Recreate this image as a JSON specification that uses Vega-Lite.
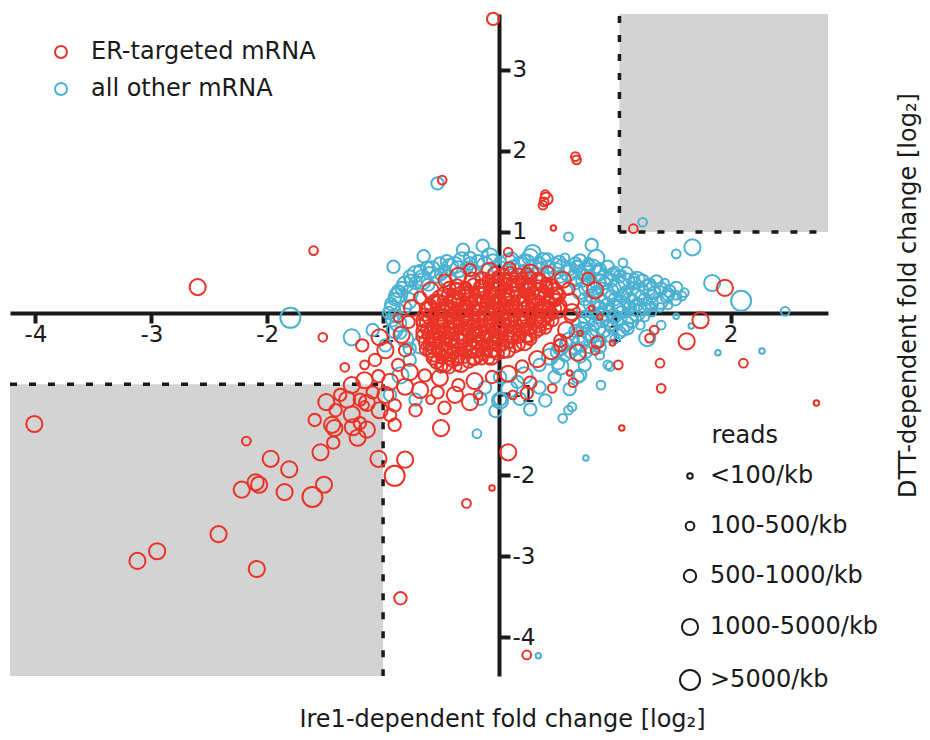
{
"$schema": "https://vega.github.io/schema/vega-lite/v6.json",
"width": 818, "height": 662,
"autosize": {"type": "none"},
"padding": {"left": 10, "top": 14, "right": 102, "bottom": 64},
"background": "white",
"config": {
 "view": {"stroke": null},
 "font": "DejaVu Sans",
 "axis": {"grid": false, "domainColor": "#1a1a1a", "domainWidth": 4, "tickColor": "#1a1a1a", "tickWidth": 4, "labelFont": "DejaVu Sans", "labelFontSize": 23, "labelColor": "#1a1a1a", "titleFont": "DejaVu Sans", "titleFontSize": 24, "titleFontWeight": "normal", "titleColor": "#1a1a1a", "labelFlush": false},
 "legend": {"labelFont": "DejaVu Sans", "labelFontSize": 24, "labelColor": "#1a1a1a", "titleFont": "DejaVu Sans", "titleFontSize": 24, "titleFontWeight": "normal", "titleColor": "#1a1a1a", "symbolStrokeWidth": 2, "padding": 0, "labelLimit": 400}
},
"layer": [
{
 "data": {"values": [{"x1": -4.22, "x2": -1, "y1": -4.48, "y2": -0.88}, {"x1": 1.04, "x2": 2.84, "y1": 1.0, "y2": 3.69}]},
 "mark": {"type": "rect", "color": "#d3d3d3"},
 "encoding": {
  "x": {"field": "x1", "type": "quantitative", "scale": {"domain": [-4.22, 2.84], "nice": false, "zero": false},
   "axis": {"orient": "bottom", "offset": -363, "values": [-4, -3, -2, -1, 1, 2], "tickSize": 10, "labelPadding": 0, "labelExpr": "'' + datum.value", "title": "Ire1-dependent fold change [log₂]", "titleX": 492, "titleY": 413, "titleBaseline": "alphabetic"}},
  "x2": {"field": "x2"},
  "y": {"field": "y1", "type": "quantitative", "scale": {"domain": [-4.48, 3.69], "nice": false, "zero": false},
   "axis": {"orient": "right", "offset": -329, "values": [-4, -3, -2, -1, 1, 2, 3], "tickSize": 11, "labelPadding": 2, "labelExpr": "'' + datum.value", "title": "DTT-dependent fold change [log₂]", "titleX": 416, "titleY": 281, "titleAngle": 270, "titleBaseline": "alphabetic"}},
  "y2": {"field": "y2"}
 }
},
{
 "data": {"values": [{"x1": -4.22, "x2": -1, "y1": -0.88, "y2": -0.88}, {"x1": -1, "x2": -1, "y1": -0.88, "y2": -4.48}, {"x1": 1.04, "x2": 1.04, "y1": 1.0, "y2": 3.69}, {"x1": 1.04, "x2": 2.84, "y1": 1.0, "y2": 1.0}]},
 "mark": {"type": "rule", "color": "#1a1a1a", "strokeWidth": 3.5, "strokeDash": [7, 12]},
 "encoding": {
  "x": {"field": "x1", "type": "quantitative", "scale": {"domain": [-4.22, 2.84], "nice": false, "zero": false}},
  "x2": {"field": "x2"},
  "y": {"field": "y1", "type": "quantitative", "scale": {"domain": [-4.48, 3.69], "nice": false, "zero": false}},
  "y2": {"field": "y2"}
 }
},
{
 "data": {"values": [
{"x":-0.25,"y":0.68,"reads":3,"set":"other"},{"x":-0.08,"y":0.70,"reads":4,"set":"other"},{"x":0.11,"y":0.67,"reads":3,"set":"other"},{"x":0.27,"y":0.69,"reads":4,"set":"other"},{"x":0.42,"y":0.66,"reads":3,"set":"other"},{"x":0.57,"y":0.68,"reads":2,"set":"other"},
{"x":-0.51,"y":0.61,"reads":3,"set":"other"},{"x":-0.38,"y":0.59,"reads":4,"set":"other"},{"x":-0.25,"y":0.61,"reads":3,"set":"other"},{"x":-0.12,"y":0.59,"reads":4,"set":"other"},{"x":0.01,"y":0.62,"reads":3,"set":"other"},{"x":0.18,"y":0.59,"reads":4,"set":"other"},{"x":0.35,"y":0.61,"reads":3,"set":"other"},{"x":0.48,"y":0.58,"reads":4,"set":"other"},{"x":0.66,"y":0.61,"reads":3,"set":"other"},{"x":0.78,"y":0.58,"reads":3,"set":"other"},
{"x":-0.68,"y":0.52,"reads":3,"set":"other"},{"x":-0.58,"y":0.54,"reads":4,"set":"other"},{"x":-0.47,"y":0.52,"reads":3,"set":"other"},{"x":-0.35,"y":0.54,"reads":4,"set":"other"},{"x":-0.21,"y":0.52,"reads":3,"set":"other"},{"x":0.01,"y":0.54,"reads":4,"set":"other"},{"x":0.22,"y":0.52,"reads":3,"set":"other"},{"x":0.35,"y":0.54,"reads":3,"set":"other"},{"x":0.49,"y":0.52,"reads":4,"set":"other"},{"x":0.61,"y":0.54,"reads":3,"set":"other"},{"x":0.74,"y":0.52,"reads":4,"set":"other"},{"x":0.87,"y":0.54,"reads":3,"set":"other"},{"x":1.00,"y":0.52,"reads":2,"set":"other"},
{"x":-0.77,"y":0.45,"reads":3,"set":"other"},{"x":-0.66,"y":0.43,"reads":4,"set":"other"},{"x":-0.54,"y":0.45,"reads":3,"set":"other"},{"x":-0.44,"y":0.43,"reads":4,"set":"other"},{"x":0.53,"y":0.45,"reads":3,"set":"other"},{"x":0.66,"y":0.43,"reads":4,"set":"other"},{"x":0.78,"y":0.45,"reads":3,"set":"other"},{"x":0.91,"y":0.43,"reads":4,"set":"other"},{"x":1.04,"y":0.45,"reads":3,"set":"other"},{"x":1.17,"y":0.43,"reads":2,"set":"other"},
{"x":-0.81,"y":0.35,"reads":4,"set":"other"},{"x":-0.72,"y":0.37,"reads":3,"set":"other"},{"x":-0.61,"y":0.35,"reads":3,"set":"other"},{"x":0.66,"y":0.37,"reads":3,"set":"other"},{"x":0.78,"y":0.35,"reads":4,"set":"other"},{"x":0.91,"y":0.37,"reads":3,"set":"other"},{"x":1.04,"y":0.35,"reads":4,"set":"other"},{"x":1.17,"y":0.37,"reads":3,"set":"other"},{"x":1.30,"y":0.35,"reads":3,"set":"other"},{"x":1.43,"y":0.37,"reads":2,"set":"other"},
{"x":-0.87,"y":0.27,"reads":3,"set":"other"},{"x":-0.77,"y":0.25,"reads":4,"set":"other"},{"x":0.70,"y":0.27,"reads":4,"set":"other"},{"x":0.83,"y":0.25,"reads":3,"set":"other"},{"x":0.96,"y":0.27,"reads":4,"set":"other"},{"x":1.09,"y":0.25,"reads":3,"set":"other"},{"x":1.22,"y":0.27,"reads":4,"set":"other"},{"x":1.34,"y":0.25,"reads":3,"set":"other"},{"x":1.47,"y":0.27,"reads":3,"set":"other"},{"x":1.60,"y":0.25,"reads":2,"set":"other"},
{"x":-0.90,"y":0.17,"reads":3,"set":"other"},{"x":-0.78,"y":0.15,"reads":4,"set":"other"},{"x":0.74,"y":0.17,"reads":3,"set":"other"},{"x":0.87,"y":0.15,"reads":4,"set":"other"},{"x":1.00,"y":0.17,"reads":3,"set":"other"},{"x":1.13,"y":0.15,"reads":4,"set":"other"},{"x":1.26,"y":0.17,"reads":3,"set":"other"},{"x":1.39,"y":0.15,"reads":4,"set":"other"},{"x":1.52,"y":0.17,"reads":3,"set":"other"},
{"x":-0.92,"y":0.05,"reads":4,"set":"other"},{"x":-0.81,"y":0.07,"reads":3,"set":"other"},{"x":0.74,"y":0.05,"reads":4,"set":"other"},{"x":0.87,"y":0.07,"reads":3,"set":"other"},{"x":1.00,"y":0.05,"reads":4,"set":"other"},{"x":1.13,"y":0.07,"reads":3,"set":"other"},{"x":1.26,"y":0.05,"reads":3,"set":"other"},{"x":1.39,"y":0.07,"reads":2,"set":"other"},
{"x":-0.90,"y":-0.03,"reads":3,"set":"other"},{"x":0.74,"y":-0.05,"reads":3,"set":"other"},{"x":0.87,"y":-0.03,"reads":4,"set":"other"},{"x":1.00,"y":-0.05,"reads":3,"set":"other"},{"x":1.13,"y":-0.03,"reads":4,"set":"other"},{"x":1.26,"y":-0.05,"reads":2,"set":"other"},
{"x":-0.87,"y":-0.13,"reads":4,"set":"other"},{"x":0.70,"y":-0.15,"reads":4,"set":"other"},{"x":0.83,"y":-0.13,"reads":3,"set":"other"},{"x":0.96,"y":-0.15,"reads":3,"set":"other"},{"x":1.09,"y":-0.13,"reads":4,"set":"other"},{"x":1.22,"y":-0.15,"reads":2,"set":"other"},
{"x":-0.85,"y":-0.24,"reads":3,"set":"other"},{"x":0.66,"y":-0.22,"reads":3,"set":"other"},{"x":0.78,"y":-0.24,"reads":4,"set":"other"},{"x":0.91,"y":-0.22,"reads":3,"set":"other"},{"x":1.04,"y":-0.24,"reads":3,"set":"other"},
{"x":-0.81,"y":-0.32,"reads":4,"set":"other"},{"x":0.61,"y":-0.34,"reads":4,"set":"other"},{"x":0.74,"y":-0.32,"reads":3,"set":"other"},{"x":0.87,"y":-0.34,"reads":3,"set":"other"},{"x":1.00,"y":-0.32,"reads":2,"set":"other"},
{"x":-0.77,"y":-0.44,"reads":3,"set":"other"},{"x":0.53,"y":-0.42,"reads":4,"set":"other"},{"x":0.66,"y":-0.44,"reads":3,"set":"other"},{"x":0.78,"y":-0.42,"reads":3,"set":"other"},
{"x":0.44,"y":-0.54,"reads":4,"set":"other"},{"x":0.57,"y":-0.52,"reads":3,"set":"other"},{"x":0.70,"y":-0.54,"reads":3,"set":"other"},{"x":0.87,"y":-0.52,"reads":2,"set":"other"},
{"x":0.35,"y":-0.64,"reads":3,"set":"other"},{"x":0.53,"y":-0.66,"reads":4,"set":"other"},{"x":0.74,"y":-0.64,"reads":3,"set":"other"},{"x":0.96,"y":-0.66,"reads":2,"set":"other"},
{"x":0.01,"y":-0.79,"reads":3,"set":"other"},{"x":0.22,"y":-0.77,"reads":4,"set":"other"},{"x":0.48,"y":-0.79,"reads":3,"set":"other"},{"x":0.70,"y":-0.77,"reads":3,"set":"other"},
{"x":-0.12,"y":-0.92,"reads":3,"set":"other"},{"x":0.09,"y":-0.94,"reads":4,"set":"other"},{"x":0.35,"y":-0.92,"reads":3,"set":"other"},{"x":0.61,"y":-0.94,"reads":3,"set":"other"},
{"x":-0.16,"y":-1.06,"reads":3,"set":"other"},{"x":0.01,"y":-1.08,"reads":4,"set":"other"},{"x":0.18,"y":-1.06,"reads":3,"set":"other"},{"x":0.40,"y":-1.08,"reads":3,"set":"other"},
{"x":-0.03,"y":-1.21,"reads":3,"set":"other"},{"x":0.27,"y":-1.19,"reads":3,"set":"other"},{"x":0.60,"y":-1.20,"reads":2,"set":"other"},
{"x":-0.90,"y":-0.21,"reads":4,"set":"other"},{"x":-0.98,"y":-0.40,"reads":3,"set":"other"},{"x":-0.77,"y":-0.58,"reads":3,"set":"other"},{"x":-0.85,"y":-0.77,"reads":4,"set":"other"},{"x":-0.94,"y":-1.01,"reads":3,"set":"other"},{"x":-0.72,"y":-1.07,"reads":3,"set":"other"},{"x":-1.09,"y":-0.21,"reads":3,"set":"other"},{"x":-0.68,"y":-0.40,"reads":4,"set":"other"},
{"x":-0.45,"y":0.64,"reads":3,"set":"other"},{"x":-0.32,"y":0.65,"reads":4,"set":"other"},{"x":-0.18,"y":0.64,"reads":3,"set":"other"},{"x":-0.05,"y":0.65,"reads":3,"set":"other"},{"x":0.08,"y":0.63,"reads":4,"set":"other"},{"x":0.22,"y":0.65,"reads":3,"set":"other"},{"x":0.38,"y":0.64,"reads":4,"set":"other"},{"x":0.52,"y":0.63,"reads":3,"set":"other"},{"x":0.70,"y":0.65,"reads":3,"set":"other"},
{"x":-0.62,"y":0.56,"reads":3,"set":"other"},{"x":-0.42,"y":0.57,"reads":4,"set":"other"},{"x":-0.28,"y":0.56,"reads":3,"set":"other"},{"x":0.12,"y":0.57,"reads":3,"set":"other"},{"x":0.30,"y":0.56,"reads":4,"set":"other"},{"x":0.42,"y":0.57,"reads":3,"set":"other"},{"x":0.55,"y":0.56,"reads":4,"set":"other"},{"x":0.68,"y":0.57,"reads":3,"set":"other"},{"x":0.81,"y":0.56,"reads":4,"set":"other"},{"x":0.94,"y":0.57,"reads":3,"set":"other"},
{"x":-0.72,"y":0.48,"reads":4,"set":"other"},{"x":-0.60,"y":0.49,"reads":3,"set":"other"},{"x":-0.50,"y":0.48,"reads":3,"set":"other"},{"x":0.60,"y":0.49,"reads":4,"set":"other"},{"x":0.72,"y":0.48,"reads":3,"set":"other"},{"x":0.85,"y":0.49,"reads":4,"set":"other"},{"x":0.98,"y":0.48,"reads":3,"set":"other"},{"x":1.10,"y":0.49,"reads":3,"set":"other"},
{"x":-0.76,"y":0.40,"reads":3,"set":"other"},{"x":-0.66,"y":0.39,"reads":4,"set":"other"},{"x":0.72,"y":0.40,"reads":3,"set":"other"},{"x":0.85,"y":0.39,"reads":4,"set":"other"},{"x":0.97,"y":0.40,"reads":3,"set":"other"},{"x":1.10,"y":0.39,"reads":4,"set":"other"},{"x":1.24,"y":0.40,"reads":3,"set":"other"},{"x":1.36,"y":0.39,"reads":3,"set":"other"},
{"x":-0.84,"y":0.31,"reads":3,"set":"other"},{"x":0.76,"y":0.31,"reads":4,"set":"other"},{"x":0.89,"y":0.30,"reads":3,"set":"other"},{"x":1.02,"y":0.31,"reads":4,"set":"other"},{"x":1.15,"y":0.30,"reads":3,"set":"other"},{"x":1.28,"y":0.31,"reads":4,"set":"other"},{"x":1.40,"y":0.30,"reads":3,"set":"other"},{"x":1.53,"y":0.31,"reads":3,"set":"other"},
{"x":-0.88,"y":0.21,"reads":4,"set":"other"},{"x":0.80,"y":0.21,"reads":3,"set":"other"},{"x":0.93,"y":0.20,"reads":4,"set":"other"},{"x":1.06,"y":0.21,"reads":3,"set":"other"},{"x":1.19,"y":0.20,"reads":4,"set":"other"},{"x":1.32,"y":0.21,"reads":3,"set":"other"},{"x":1.45,"y":0.20,"reads":3,"set":"other"},{"x":1.58,"y":0.21,"reads":2,"set":"other"},
{"x":-0.93,"y":0.11,"reads":3,"set":"other"},{"x":0.80,"y":0.11,"reads":4,"set":"other"},{"x":0.93,"y":0.10,"reads":3,"set":"other"},{"x":1.06,"y":0.11,"reads":4,"set":"other"},{"x":1.19,"y":0.10,"reads":3,"set":"other"},{"x":1.32,"y":0.11,"reads":3,"set":"other"},{"x":1.46,"y":0.10,"reads":2,"set":"other"},
{"x":-0.95,"y":0.00,"reads":3,"set":"other"},{"x":0.80,"y":0.01,"reads":3,"set":"other"},{"x":0.93,"y":0.00,"reads":4,"set":"other"},{"x":1.06,"y":0.01,"reads":3,"set":"other"},{"x":1.19,"y":0.00,"reads":4,"set":"other"},{"x":1.32,"y":0.01,"reads":2,"set":"other"},
{"x":-0.92,"y":-0.09,"reads":3,"set":"other"},{"x":0.76,"y":-0.09,"reads":4,"set":"other"},{"x":0.89,"y":-0.10,"reads":3,"set":"other"},{"x":1.02,"y":-0.09,"reads":3,"set":"other"},{"x":1.15,"y":-0.10,"reads":3,"set":"other"},
{"x":0.72,"y":-0.19,"reads":3,"set":"other"},{"x":0.85,"y":-0.19,"reads":4,"set":"other"},{"x":0.98,"y":-0.18,"reads":3,"set":"other"},{"x":1.11,"y":-0.19,"reads":3,"set":"other"},
{"x":0.68,"y":-0.28,"reads":4,"set":"other"},{"x":0.80,"y":-0.29,"reads":3,"set":"other"},{"x":0.95,"y":-0.28,"reads":3,"set":"other"},
{"x":0.58,"y":-0.38,"reads":3,"set":"other"},{"x":0.70,"y":-0.38,"reads":4,"set":"other"},{"x":0.83,"y":-0.38,"reads":3,"set":"other"},
{"x":0.50,"y":-0.48,"reads":3,"set":"other"},{"x":0.62,"y":-0.48,"reads":3,"set":"other"},{"x":0.75,"y":-0.48,"reads":3,"set":"other"},
{"x":-0.91,"y":0.57,"reads":3,"set":"other"},{"x":-0.65,"y":0.70,"reads":3,"set":"other"},{"x":-0.31,"y":0.78,"reads":3,"set":"other"},{"x":-0.14,"y":0.83,"reads":3,"set":"other"},{"x":-0.12,"y":0.73,"reads":1,"set":"other"},{"x":-0.86,"y":0.23,"reads":4,"set":"other"},{"x":-1.27,"y":-0.30,"reads":4,"set":"other"},{"x":-1.80,"y":-0.06,"reads":5,"set":"other"},{"x":-0.53,"y":1.60,"reads":3,"set":"other"},{"x":1.24,"y":1.12,"reads":2,"set":"other"},
{"x":1.67,"y":0.81,"reads":4,"set":"other"},{"x":1.53,"y":0.73,"reads":2,"set":"other"},{"x":1.84,"y":0.37,"reads":4,"set":"other"},{"x":2.09,"y":0.15,"reads":5,"set":"other"},{"x":2.47,"y":0.02,"reads":2,"set":"other"},{"x":2.27,"y":-0.47,"reads":1,"set":"other"},{"x":1.89,"y":-0.49,"reads":1,"set":"other"},{"x":1.66,"y":-0.16,"reads":1,"set":"other"},{"x":1.53,"y":-0.04,"reads":1,"set":"other"},{"x":1.28,"y":-0.31,"reads":4,"set":"other"},
{"x":1.40,"y":-0.15,"reads":2,"set":"other"},{"x":1.32,"y":0.28,"reads":4,"set":"other"},{"x":1.19,"y":0.41,"reads":4,"set":"other"},{"x":1.46,"y":0.23,"reads":3,"set":"other"},{"x":1.53,"y":0.22,"reads":2,"set":"other"},{"x":1.33,"y":0.09,"reads":1,"set":"other"},{"x":1.20,"y":0.06,"reads":4,"set":"other"},{"x":1.05,"y":0.07,"reads":4,"set":"other"},{"x":1.07,"y":0.62,"reads":2,"set":"other"},{"x":1.07,"y":0.49,"reads":1,"set":"other"},
{"x":0.80,"y":0.84,"reads":3,"set":"other"},{"x":0.84,"y":0.68,"reads":4,"set":"other"},{"x":0.77,"y":0.63,"reads":2,"set":"other"},{"x":0.67,"y":0.57,"reads":3,"set":"other"},{"x":0.60,"y":0.94,"reads":2,"set":"other"},{"x":0.29,"y":0.74,"reads":4,"set":"other"},{"x":0.24,"y":0.62,"reads":4,"set":"other"},{"x":0.94,"y":-0.64,"reads":2,"set":"other"},{"x":0.51,"y":-0.62,"reads":3,"set":"other"},{"x":0.68,"y":-0.79,"reads":3,"set":"other"},
{"x":0.63,"y":-1.16,"reads":2,"set":"other"},{"x":0.55,"y":-1.30,"reads":2,"set":"other"},{"x":0.87,"y":-0.42,"reads":3,"set":"other"},{"x":1.07,"y":-0.21,"reads":3,"set":"other"},{"x":-0.19,"y":-1.49,"reads":2,"set":"other"},{"x":0.75,"y":-1.79,"reads":1,"set":"other"},{"x":0.88,"y":-0.89,"reads":2,"set":"other"},{"x":0.34,"y":-4.23,"reads":1,"set":"other"},{"x":0.16,"y":-0.85,"reads":3,"set":"other"},{"x":0.01,"y":-1.07,"reads":3,"set":"other"},
{"x":-0.05,"y":3.63,"reads":3,"set":"ER"},{"x":0.66,"y":1.93,"reads":2,"set":"ER"},{"x":0.67,"y":1.89,"reads":2,"set":"ER"},{"x":0.40,"y":1.46,"reads":2,"set":"ER"},{"x":0.41,"y":1.41,"reads":3,"set":"ER"},{"x":0.39,"y":1.37,"reads":2,"set":"ER"},{"x":0.38,"y":1.33,"reads":2,"set":"ER"},{"x":-0.49,"y":1.64,"reads":2,"set":"ER"},{"x":0.47,"y":1.05,"reads":1,"set":"ER"},{"x":-1.60,"y":0.77,"reads":2,"set":"ER"},
{"x":-2.60,"y":0.32,"reads":4,"set":"ER"},{"x":-1.52,"y":-0.30,"reads":2,"set":"ER"},{"x":-4.01,"y":-1.37,"reads":4,"set":"ER"},{"x":0.08,"y":0.75,"reads":2,"set":"ER"},{"x":1.16,"y":1.04,"reads":2,"set":"ER"},
{"x":-2.18,"y":-1.58,"reads":2,"set":"ER"},{"x":-1.97,"y":-1.80,"reads":4,"set":"ER"},{"x":-1.81,"y":-1.93,"reads":4,"set":"ER"},{"x":-2.22,"y":-2.18,"reads":4,"set":"ER"},{"x":-2.10,"y":-2.09,"reads":4,"set":"ER"},{"x":-2.07,"y":-2.12,"reads":4,"set":"ER"},{"x":-1.85,"y":-2.21,"reads":4,"set":"ER"},{"x":-1.61,"y":-2.27,"reads":5,"set":"ER"},{"x":-1.51,"y":-2.12,"reads":4,"set":"ER"},{"x":-2.42,"y":-2.73,"reads":4,"set":"ER"},
{"x":-2.95,"y":-2.94,"reads":4,"set":"ER"},{"x":-3.12,"y":-3.06,"reads":4,"set":"ER"},{"x":-2.09,"y":-3.16,"reads":4,"set":"ER"},{"x":-1.54,"y":-1.72,"reads":4,"set":"ER"},{"x":-1.59,"y":-1.32,"reads":3,"set":"ER"},{"x":-1.49,"y":-1.10,"reads":4,"set":"ER"},{"x":-1.44,"y":-1.38,"reads":4,"set":"ER"},{"x":-1.42,"y":-1.42,"reads":4,"set":"ER"},{"x":-1.43,"y":-1.60,"reads":3,"set":"ER"},{"x":-1.31,"y":-1.07,"reads":4,"set":"ER"},
{"x":-1.27,"y":-1.25,"reads":4,"set":"ER"},{"x":-1.26,"y":-1.41,"reads":4,"set":"ER"},{"x":-1.22,"y":-1.54,"reads":4,"set":"ER"},{"x":-1.20,"y":-1.36,"reads":3,"set":"ER"},{"x":-1.14,"y":-1.44,"reads":4,"set":"ER"},{"x":-1.14,"y":-1.11,"reads":4,"set":"ER"},{"x":-1.04,"y":-1.80,"reads":4,"set":"ER"},{"x":-0.90,"y":-2.01,"reads":5,"set":"ER"},{"x":-0.81,"y":-1.81,"reads":4,"set":"ER"},{"x":-0.85,"y":-3.52,"reads":3,"set":"ER"},
{"x":-0.50,"y":-1.42,"reads":4,"set":"ER"},{"x":0.08,"y":-1.72,"reads":4,"set":"ER"},{"x":-0.28,"y":-2.35,"reads":2,"set":"ER"},{"x":-0.06,"y":-2.16,"reads":1,"set":"ER"},{"x":0.24,"y":-4.22,"reads":2,"set":"ER"},{"x":1.74,"y":-0.09,"reads":4,"set":"ER"},{"x":1.62,"y":-0.35,"reads":4,"set":"ER"},{"x":1.95,"y":0.31,"reads":4,"set":"ER"},{"x":1.34,"y":-0.21,"reads":2,"set":"ER"},{"x":1.30,"y":-0.31,"reads":2,"set":"ER"},
{"x":1.39,"y":-0.62,"reads":2,"set":"ER"},{"x":1.40,"y":-0.93,"reads":2,"set":"ER"},{"x":2.11,"y":-0.62,"reads":2,"set":"ER"},{"x":2.74,"y":-1.11,"reads":1,"set":"ER"},{"x":1.03,"y":-0.64,"reads":2,"set":"ER"},{"x":0.98,"y":-0.37,"reads":1,"set":"ER"},{"x":1.06,"y":-1.42,"reads":1,"set":"ER"},{"x":0.64,"y":-0.86,"reads":2,"set":"ER"},{"x":0.46,"y":-0.93,"reads":2,"set":"ER"},{"x":0.24,"y":-0.99,"reads":3,"set":"ER"},
{"x":0.85,"y":-0.36,"reads":3,"set":"ER"},{"x":0.68,"y":-0.49,"reads":4,"set":"ER"},{"x":0.83,"y":-0.46,"reads":2,"set":"ER"},{"x":0.63,"y":0.01,"reads":4,"set":"ER"},{"x":0.77,"y":0.42,"reads":3,"set":"ER"},{"x":0.83,"y":0.28,"reads":4,"set":"ER"},{"x":0.80,"y":0.06,"reads":1,"set":"ER"},{"x":0.87,"y":-0.05,"reads":1,"set":"ER"},{"x":0.70,"y":-0.25,"reads":1,"set":"ER"},{"x":0.61,"y":-0.74,"reads":1,"set":"ER"},
{"x":0.53,"y":-0.40,"reads":3,"set":"ER"},{"x":0.27,"y":-0.86,"reads":3,"set":"ER"},{"x":0.12,"y":-1.01,"reads":2,"set":"ER"},{"x":-0.25,"y":-1.10,"reads":4,"set":"ER"},
{"x":-0.51,"y":-0.80,"reads":4,"set":"ER"},{"x":-0.64,"y":-0.77,"reads":3,"set":"ER"},{"x":-0.77,"y":-0.73,"reads":4,"set":"ER"},{"x":-0.87,"y":-0.64,"reads":3,"set":"ER"},{"x":-0.81,"y":-0.46,"reads":3,"set":"ER"},{"x":-0.84,"y":-0.27,"reads":4,"set":"ER"},{"x":-0.78,"y":-0.11,"reads":3,"set":"ER"},{"x":-0.87,"y":-0.06,"reads":2,"set":"ER"},{"x":-0.75,"y":0.06,"reads":4,"set":"ER"},{"x":-0.68,"y":0.19,"reads":3,"set":"ER"},
{"x":-0.59,"y":0.28,"reads":4,"set":"ER"},{"x":-0.47,"y":0.40,"reads":3,"set":"ER"},{"x":-0.35,"y":0.46,"reads":4,"set":"ER"},{"x":-0.25,"y":0.53,"reads":3,"set":"ER"},{"x":-0.08,"y":0.52,"reads":4,"set":"ER"},{"x":0.09,"y":0.55,"reads":3,"set":"ER"},{"x":0.27,"y":0.50,"reads":4,"set":"ER"},{"x":0.42,"y":0.50,"reads":3,"set":"ER"},{"x":0.55,"y":0.41,"reads":4,"set":"ER"},{"x":0.60,"y":0.30,"reads":3,"set":"ER"},
{"x":0.62,"y":0.14,"reads":4,"set":"ER"},{"x":0.62,"y":-0.04,"reads":3,"set":"ER"},{"x":0.58,"y":-0.21,"reads":4,"set":"ER"},{"x":0.53,"y":-0.34,"reads":3,"set":"ER"},{"x":0.45,"y":-0.47,"reads":4,"set":"ER"},{"x":0.33,"y":-0.57,"reads":4,"set":"ER"},{"x":0.20,"y":-0.66,"reads":3,"set":"ER"},{"x":0.08,"y":-0.75,"reads":4,"set":"ER"},{"x":-0.06,"y":-0.79,"reads":3,"set":"ER"},{"x":-0.21,"y":-0.84,"reads":4,"set":"ER"},
{"x":-0.35,"y":-0.89,"reads":3,"set":"ER"},{"x":-0.18,"y":-1.01,"reads":2,"set":"ER"},{"x":-0.38,"y":-1.01,"reads":4,"set":"ER"},{"x":-0.53,"y":-0.98,"reads":3,"set":"ER"},{"x":-0.68,"y":-0.95,"reads":4,"set":"ER"},{"x":-0.81,"y":-0.91,"reads":4,"set":"ER"},{"x":-0.94,"y":-0.85,"reads":4,"set":"ER"},{"x":-1.04,"y":-0.78,"reads":3,"set":"ER"},{"x":-0.98,"y":-1.01,"reads":4,"set":"ER"},{"x":-1.09,"y":-0.98,"reads":3,"set":"ER"},
{"x":-0.90,"y":-1.14,"reads":3,"set":"ER"},{"x":-1.03,"y":-1.20,"reads":4,"set":"ER"},{"x":-1.16,"y":-1.14,"reads":2,"set":"ER"},{"x":-1.07,"y":-0.58,"reads":3,"set":"ER"},{"x":-0.98,"y":-0.46,"reads":4,"set":"ER"},{"x":-1.03,"y":-0.30,"reads":4,"set":"ER"},{"x":-1.18,"y":-0.40,"reads":3,"set":"ER"},{"x":-1.33,"y":-0.67,"reads":2,"set":"ER"},{"x":-1.16,"y":-0.64,"reads":2,"set":"ER"},{"x":-0.90,"y":-1.38,"reads":3,"set":"ER"},
{"x":-1.37,"y":-1.01,"reads":3,"set":"ER"},{"x":-1.27,"y":-0.89,"reads":4,"set":"ER"},{"x":-1.20,"y":-1.07,"reads":3,"set":"ER"},{"x":-1.41,"y":-1.20,"reads":3,"set":"ER"},{"x":-0.94,"y":-1.26,"reads":3,"set":"ER"},{"x":-0.72,"y":-1.20,"reads":3,"set":"ER"},{"x":-0.59,"y":-1.07,"reads":2,"set":"ER"},{"x":-0.47,"y":-1.17,"reads":3,"set":"ER"},{"x":-1.16,"y":-0.83,"reads":4,"set":"ER"},
{"x":-0.04,"y":0.49,"reads":3,"set":"ER"},{"x":0.03,"y":0.45,"reads":4,"set":"ER"},{"x":0.10,"y":0.49,"reads":3,"set":"ER"},{"x":0.17,"y":0.45,"reads":4,"set":"ER"},{"x":0.24,"y":0.48,"reads":3,"set":"ER"},
{"x":-0.23,"y":0.40,"reads":4,"set":"ER"},{"x":-0.16,"y":0.36,"reads":2,"set":"ER"},{"x":-0.09,"y":0.40,"reads":3,"set":"ER"},{"x":-0.02,"y":0.36,"reads":4,"set":"ER"},{"x":0.06,"y":0.40,"reads":3,"set":"ER"},{"x":0.13,"y":0.36,"reads":4,"set":"ER"},{"x":0.19,"y":0.40,"reads":2,"set":"ER"},{"x":0.26,"y":0.36,"reads":3,"set":"ER"},{"x":0.34,"y":0.40,"reads":4,"set":"ER"},{"x":0.41,"y":0.36,"reads":3,"set":"ER"},
{"x":-0.43,"y":0.31,"reads":3,"set":"ER"},{"x":-0.36,"y":0.27,"reads":4,"set":"ER"},{"x":-0.29,"y":0.31,"reads":3,"set":"ER"},{"x":-0.22,"y":0.27,"reads":2,"set":"ER"},{"x":-0.15,"y":0.31,"reads":4,"set":"ER"},{"x":-0.08,"y":0.27,"reads":3,"set":"ER"},{"x":-0.01,"y":0.31,"reads":4,"set":"ER"},{"x":0.06,"y":0.27,"reads":3,"set":"ER"},{"x":0.13,"y":0.31,"reads":4,"set":"ER"},{"x":0.20,"y":0.27,"reads":2,"set":"ER"},{"x":0.27,"y":0.31,"reads":3,"set":"ER"},{"x":0.34,"y":0.27,"reads":4,"set":"ER"},{"x":0.41,"y":0.31,"reads":3,"set":"ER"},{"x":0.48,"y":0.27,"reads":4,"set":"ER"},
{"x":-0.51,"y":0.18,"reads":4,"set":"ER"},{"x":-0.44,"y":0.22,"reads":3,"set":"ER"},{"x":-0.37,"y":0.18,"reads":4,"set":"ER"},{"x":-0.30,"y":0.22,"reads":3,"set":"ER"},{"x":-0.23,"y":0.18,"reads":2,"set":"ER"},{"x":-0.16,"y":0.22,"reads":4,"set":"ER"},{"x":-0.09,"y":0.18,"reads":3,"set":"ER"},{"x":-0.02,"y":0.22,"reads":4,"set":"ER"},{"x":0.05,"y":0.18,"reads":3,"set":"ER"},{"x":0.12,"y":0.22,"reads":4,"set":"ER"},{"x":0.19,"y":0.18,"reads":2,"set":"ER"},{"x":0.26,"y":0.22,"reads":3,"set":"ER"},{"x":0.33,"y":0.18,"reads":4,"set":"ER"},{"x":0.40,"y":0.22,"reads":3,"set":"ER"},{"x":0.47,"y":0.18,"reads":4,"set":"ER"},{"x":0.52,"y":0.22,"reads":3,"set":"ER"},
{"x":-0.59,"y":0.09,"reads":3,"set":"ER"},{"x":-0.52,"y":0.13,"reads":4,"set":"ER"},{"x":-0.45,"y":0.09,"reads":3,"set":"ER"},{"x":-0.38,"y":0.13,"reads":4,"set":"ER"},{"x":-0.31,"y":0.09,"reads":2,"set":"ER"},{"x":-0.24,"y":0.13,"reads":3,"set":"ER"},{"x":-0.17,"y":0.09,"reads":4,"set":"ER"},{"x":-0.10,"y":0.13,"reads":3,"set":"ER"},{"x":-0.03,"y":0.09,"reads":4,"set":"ER"},{"x":0.04,"y":0.13,"reads":2,"set":"ER"},{"x":0.11,"y":0.09,"reads":3,"set":"ER"},{"x":0.18,"y":0.13,"reads":4,"set":"ER"},{"x":0.25,"y":0.09,"reads":3,"set":"ER"},{"x":0.32,"y":0.13,"reads":4,"set":"ER"},{"x":0.39,"y":0.09,"reads":3,"set":"ER"},{"x":0.46,"y":0.13,"reads":2,"set":"ER"},{"x":0.53,"y":0.09,"reads":3,"set":"ER"},
{"x":-0.60,"y":0.04,"reads":4,"set":"ER"},{"x":-0.53,"y":0.00,"reads":3,"set":"ER"},{"x":-0.46,"y":0.04,"reads":4,"set":"ER"},{"x":-0.39,"y":0.00,"reads":3,"set":"ER"},{"x":-0.32,"y":0.04,"reads":4,"set":"ER"},{"x":-0.25,"y":0.00,"reads":2,"set":"ER"},{"x":-0.18,"y":0.04,"reads":3,"set":"ER"},{"x":-0.11,"y":0.00,"reads":4,"set":"ER"},{"x":-0.04,"y":0.04,"reads":3,"set":"ER"},{"x":0.03,"y":0.00,"reads":4,"set":"ER"},{"x":0.10,"y":0.04,"reads":3,"set":"ER"},{"x":0.17,"y":0.00,"reads":2,"set":"ER"},{"x":0.24,"y":0.04,"reads":4,"set":"ER"},{"x":0.31,"y":0.00,"reads":3,"set":"ER"},{"x":0.38,"y":0.04,"reads":4,"set":"ER"},{"x":0.45,"y":0.00,"reads":3,"set":"ER"},{"x":0.51,"y":0.04,"reads":4,"set":"ER"},
{"x":-0.66,"y":-0.09,"reads":3,"set":"ER"},{"x":-0.59,"y":-0.05,"reads":4,"set":"ER"},{"x":-0.52,"y":-0.09,"reads":3,"set":"ER"},{"x":-0.45,"y":-0.05,"reads":2,"set":"ER"},{"x":-0.38,"y":-0.09,"reads":4,"set":"ER"},{"x":-0.31,"y":-0.05,"reads":3,"set":"ER"},{"x":-0.24,"y":-0.09,"reads":4,"set":"ER"},{"x":-0.17,"y":-0.05,"reads":3,"set":"ER"},{"x":-0.10,"y":-0.09,"reads":4,"set":"ER"},{"x":-0.03,"y":-0.05,"reads":2,"set":"ER"},{"x":0.04,"y":-0.09,"reads":3,"set":"ER"},{"x":0.11,"y":-0.05,"reads":4,"set":"ER"},{"x":0.18,"y":-0.09,"reads":3,"set":"ER"},{"x":0.25,"y":-0.05,"reads":4,"set":"ER"},{"x":0.32,"y":-0.09,"reads":3,"set":"ER"},{"x":0.39,"y":-0.05,"reads":4,"set":"ER"},{"x":0.46,"y":-0.09,"reads":3,"set":"ER"},
{"x":-0.64,"y":-0.14,"reads":4,"set":"ER"},{"x":-0.57,"y":-0.18,"reads":3,"set":"ER"},{"x":-0.50,"y":-0.14,"reads":4,"set":"ER"},{"x":-0.43,"y":-0.18,"reads":3,"set":"ER"},{"x":-0.36,"y":-0.14,"reads":2,"set":"ER"},{"x":-0.29,"y":-0.18,"reads":4,"set":"ER"},{"x":-0.22,"y":-0.14,"reads":3,"set":"ER"},{"x":-0.15,"y":-0.18,"reads":4,"set":"ER"},{"x":-0.08,"y":-0.14,"reads":3,"set":"ER"},{"x":-0.01,"y":-0.18,"reads":4,"set":"ER"},{"x":0.06,"y":-0.14,"reads":2,"set":"ER"},{"x":0.13,"y":-0.18,"reads":3,"set":"ER"},{"x":0.20,"y":-0.14,"reads":4,"set":"ER"},{"x":0.27,"y":-0.18,"reads":3,"set":"ER"},{"x":0.34,"y":-0.14,"reads":4,"set":"ER"},{"x":0.40,"y":-0.18,"reads":3,"set":"ER"},
{"x":-0.66,"y":-0.23,"reads":3,"set":"ER"},{"x":-0.59,"y":-0.27,"reads":4,"set":"ER"},{"x":-0.52,"y":-0.23,"reads":3,"set":"ER"},{"x":-0.45,"y":-0.27,"reads":4,"set":"ER"},{"x":-0.38,"y":-0.23,"reads":2,"set":"ER"},{"x":-0.31,"y":-0.27,"reads":3,"set":"ER"},{"x":-0.24,"y":-0.23,"reads":4,"set":"ER"},{"x":-0.17,"y":-0.27,"reads":3,"set":"ER"},{"x":-0.10,"y":-0.23,"reads":4,"set":"ER"},{"x":-0.03,"y":-0.27,"reads":3,"set":"ER"},{"x":0.04,"y":-0.23,"reads":2,"set":"ER"},{"x":0.11,"y":-0.27,"reads":4,"set":"ER"},{"x":0.18,"y":-0.23,"reads":3,"set":"ER"},{"x":0.25,"y":-0.27,"reads":4,"set":"ER"},{"x":0.32,"y":-0.23,"reads":3,"set":"ER"},
{"x":-0.62,"y":-0.36,"reads":4,"set":"ER"},{"x":-0.55,"y":-0.32,"reads":3,"set":"ER"},{"x":-0.48,"y":-0.36,"reads":4,"set":"ER"},{"x":-0.41,"y":-0.32,"reads":3,"set":"ER"},{"x":-0.34,"y":-0.36,"reads":4,"set":"ER"},{"x":-0.27,"y":-0.32,"reads":2,"set":"ER"},{"x":-0.20,"y":-0.36,"reads":3,"set":"ER"},{"x":-0.13,"y":-0.32,"reads":4,"set":"ER"},{"x":-0.06,"y":-0.36,"reads":3,"set":"ER"},{"x":0.01,"y":-0.32,"reads":4,"set":"ER"},{"x":0.08,"y":-0.36,"reads":3,"set":"ER"},{"x":0.15,"y":-0.32,"reads":2,"set":"ER"},{"x":0.22,"y":-0.36,"reads":4,"set":"ER"},{"x":0.27,"y":-0.32,"reads":3,"set":"ER"},
{"x":-0.63,"y":-0.45,"reads":3,"set":"ER"},{"x":-0.56,"y":-0.41,"reads":4,"set":"ER"},{"x":-0.49,"y":-0.45,"reads":3,"set":"ER"},{"x":-0.42,"y":-0.41,"reads":4,"set":"ER"},{"x":-0.35,"y":-0.45,"reads":3,"set":"ER"},{"x":-0.28,"y":-0.41,"reads":2,"set":"ER"},{"x":-0.21,"y":-0.45,"reads":4,"set":"ER"},{"x":-0.14,"y":-0.41,"reads":3,"set":"ER"},{"x":-0.07,"y":-0.45,"reads":4,"set":"ER"},{"x":0.00,"y":-0.41,"reads":3,"set":"ER"},{"x":0.07,"y":-0.45,"reads":4,"set":"ER"},{"x":0.14,"y":-0.41,"reads":3,"set":"ER"},
{"x":-0.56,"y":-0.50,"reads":4,"set":"ER"},{"x":-0.49,"y":-0.54,"reads":3,"set":"ER"},{"x":-0.42,"y":-0.50,"reads":4,"set":"ER"},{"x":-0.35,"y":-0.54,"reads":3,"set":"ER"},{"x":-0.28,"y":-0.50,"reads":2,"set":"ER"},{"x":-0.21,"y":-0.54,"reads":4,"set":"ER"},{"x":-0.14,"y":-0.50,"reads":3,"set":"ER"},{"x":-0.07,"y":-0.54,"reads":4,"set":"ER"},{"x":-0.01,"y":-0.50,"reads":3,"set":"ER"},
{"x":-0.54,"y":-0.61,"reads":3,"set":"ER"},{"x":-0.47,"y":-0.63,"reads":4,"set":"ER"},{"x":-0.40,"y":-0.59,"reads":3,"set":"ER"},{"x":-0.33,"y":-0.63,"reads":4,"set":"ER"},{"x":-0.26,"y":-0.60,"reads":3,"set":"ER"},
{"x":-0.15,"y":0.43,"reads":3,"set":"ER"},{"x":-0.08,"y":0.42,"reads":2,"set":"ER"},{"x":-0.01,"y":0.44,"reads":3,"set":"ER"},{"x":0.06,"y":0.42,"reads":3,"set":"ER"},{"x":0.13,"y":0.44,"reads":2,"set":"ER"},{"x":0.20,"y":0.42,"reads":3,"set":"ER"},{"x":0.27,"y":0.43,"reads":3,"set":"ER"},{"x":0.34,"y":0.42,"reads":2,"set":"ER"},
{"x":-0.36,"y":0.34,"reads":3,"set":"ER"},{"x":-0.29,"y":0.33,"reads":2,"set":"ER"},{"x":-0.22,"y":0.35,"reads":3,"set":"ER"},{"x":-0.15,"y":0.33,"reads":3,"set":"ER"},{"x":-0.08,"y":0.34,"reads":2,"set":"ER"},{"x":-0.01,"y":0.33,"reads":3,"set":"ER"},{"x":0.06,"y":0.35,"reads":3,"set":"ER"},{"x":0.13,"y":0.33,"reads":2,"set":"ER"},{"x":0.20,"y":0.34,"reads":3,"set":"ER"},{"x":0.27,"y":0.33,"reads":3,"set":"ER"},{"x":0.34,"y":0.35,"reads":2,"set":"ER"},{"x":0.41,"y":0.33,"reads":3,"set":"ER"},{"x":0.46,"y":0.34,"reads":3,"set":"ER"},
{"x":-0.48,"y":0.24,"reads":3,"set":"ER"},{"x":-0.41,"y":0.25,"reads":2,"set":"ER"},{"x":-0.34,"y":0.24,"reads":3,"set":"ER"},{"x":-0.27,"y":0.25,"reads":3,"set":"ER"},{"x":-0.20,"y":0.24,"reads":2,"set":"ER"},{"x":-0.13,"y":0.25,"reads":3,"set":"ER"},{"x":-0.06,"y":0.24,"reads":3,"set":"ER"},{"x":0.01,"y":0.25,"reads":2,"set":"ER"},{"x":0.08,"y":0.24,"reads":3,"set":"ER"},{"x":0.15,"y":0.25,"reads":3,"set":"ER"},{"x":0.22,"y":0.24,"reads":2,"set":"ER"},{"x":0.29,"y":0.25,"reads":3,"set":"ER"},{"x":0.36,"y":0.24,"reads":3,"set":"ER"},{"x":0.43,"y":0.25,"reads":2,"set":"ER"},{"x":0.50,"y":0.24,"reads":3,"set":"ER"},
{"x":-0.56,"y":0.15,"reads":3,"set":"ER"},{"x":-0.49,"y":0.16,"reads":2,"set":"ER"},{"x":-0.42,"y":0.15,"reads":3,"set":"ER"},{"x":-0.35,"y":0.16,"reads":3,"set":"ER"},{"x":-0.28,"y":0.15,"reads":2,"set":"ER"},{"x":-0.21,"y":0.16,"reads":3,"set":"ER"},{"x":-0.14,"y":0.15,"reads":3,"set":"ER"},{"x":-0.07,"y":0.16,"reads":2,"set":"ER"},{"x":0.00,"y":0.15,"reads":3,"set":"ER"},{"x":0.07,"y":0.16,"reads":3,"set":"ER"},{"x":0.14,"y":0.15,"reads":2,"set":"ER"},{"x":0.21,"y":0.16,"reads":3,"set":"ER"},{"x":0.28,"y":0.15,"reads":3,"set":"ER"},{"x":0.35,"y":0.16,"reads":2,"set":"ER"},{"x":0.42,"y":0.15,"reads":3,"set":"ER"},{"x":0.49,"y":0.16,"reads":3,"set":"ER"},
{"x":-0.62,"y":0.06,"reads":3,"set":"ER"},{"x":-0.55,"y":0.07,"reads":2,"set":"ER"},{"x":-0.48,"y":0.06,"reads":3,"set":"ER"},{"x":-0.41,"y":0.07,"reads":3,"set":"ER"},{"x":-0.34,"y":0.06,"reads":2,"set":"ER"},{"x":-0.27,"y":0.07,"reads":3,"set":"ER"},{"x":-0.20,"y":0.06,"reads":3,"set":"ER"},{"x":-0.13,"y":0.07,"reads":2,"set":"ER"},{"x":-0.06,"y":0.06,"reads":3,"set":"ER"},{"x":0.01,"y":0.07,"reads":3,"set":"ER"},{"x":0.08,"y":0.06,"reads":2,"set":"ER"},{"x":0.15,"y":0.07,"reads":3,"set":"ER"},{"x":0.22,"y":0.06,"reads":3,"set":"ER"},{"x":0.29,"y":0.07,"reads":2,"set":"ER"},{"x":0.36,"y":0.06,"reads":3,"set":"ER"},{"x":0.43,"y":0.07,"reads":3,"set":"ER"},{"x":0.50,"y":0.06,"reads":2,"set":"ER"},
{"x":-0.64,"y":-0.02,"reads":3,"set":"ER"},{"x":-0.57,"y":-0.03,"reads":2,"set":"ER"},{"x":-0.50,"y":-0.02,"reads":3,"set":"ER"},{"x":-0.43,"y":-0.03,"reads":3,"set":"ER"},{"x":-0.36,"y":-0.02,"reads":2,"set":"ER"},{"x":-0.29,"y":-0.03,"reads":3,"set":"ER"},{"x":-0.22,"y":-0.02,"reads":3,"set":"ER"},{"x":-0.15,"y":-0.03,"reads":2,"set":"ER"},{"x":-0.08,"y":-0.02,"reads":3,"set":"ER"},{"x":-0.01,"y":-0.03,"reads":3,"set":"ER"},{"x":0.06,"y":-0.02,"reads":2,"set":"ER"},{"x":0.13,"y":-0.03,"reads":3,"set":"ER"},{"x":0.20,"y":-0.02,"reads":3,"set":"ER"},{"x":0.27,"y":-0.03,"reads":2,"set":"ER"},{"x":0.34,"y":-0.02,"reads":3,"set":"ER"},{"x":0.41,"y":-0.03,"reads":3,"set":"ER"},{"x":0.47,"y":-0.02,"reads":2,"set":"ER"},
{"x":-0.63,"y":-0.11,"reads":3,"set":"ER"},{"x":-0.56,"y":-0.12,"reads":2,"set":"ER"},{"x":-0.49,"y":-0.11,"reads":3,"set":"ER"},{"x":-0.42,"y":-0.12,"reads":3,"set":"ER"},{"x":-0.35,"y":-0.11,"reads":2,"set":"ER"},{"x":-0.28,"y":-0.12,"reads":3,"set":"ER"},{"x":-0.21,"y":-0.11,"reads":3,"set":"ER"},{"x":-0.14,"y":-0.12,"reads":2,"set":"ER"},{"x":-0.07,"y":-0.11,"reads":3,"set":"ER"},{"x":0.00,"y":-0.12,"reads":3,"set":"ER"},{"x":0.07,"y":-0.11,"reads":2,"set":"ER"},{"x":0.14,"y":-0.12,"reads":3,"set":"ER"},{"x":0.21,"y":-0.11,"reads":3,"set":"ER"},{"x":0.28,"y":-0.12,"reads":2,"set":"ER"},{"x":0.35,"y":-0.11,"reads":3,"set":"ER"},{"x":0.42,"y":-0.12,"reads":3,"set":"ER"},
{"x":-0.62,"y":-0.20,"reads":3,"set":"ER"},{"x":-0.55,"y":-0.21,"reads":2,"set":"ER"},{"x":-0.48,"y":-0.20,"reads":3,"set":"ER"},{"x":-0.41,"y":-0.21,"reads":3,"set":"ER"},{"x":-0.34,"y":-0.20,"reads":2,"set":"ER"},{"x":-0.27,"y":-0.21,"reads":3,"set":"ER"},{"x":-0.20,"y":-0.20,"reads":3,"set":"ER"},{"x":-0.13,"y":-0.21,"reads":2,"set":"ER"},{"x":-0.06,"y":-0.20,"reads":3,"set":"ER"},{"x":0.01,"y":-0.21,"reads":3,"set":"ER"},{"x":0.08,"y":-0.20,"reads":2,"set":"ER"},{"x":0.15,"y":-0.21,"reads":3,"set":"ER"},{"x":0.22,"y":-0.20,"reads":3,"set":"ER"},{"x":0.29,"y":-0.21,"reads":2,"set":"ER"},{"x":0.35,"y":-0.20,"reads":3,"set":"ER"},
{"x":-0.66,"y":-0.29,"reads":3,"set":"ER"},{"x":-0.59,"y":-0.30,"reads":2,"set":"ER"},{"x":-0.52,"y":-0.29,"reads":3,"set":"ER"},{"x":-0.45,"y":-0.30,"reads":3,"set":"ER"},{"x":-0.38,"y":-0.29,"reads":2,"set":"ER"},{"x":-0.31,"y":-0.30,"reads":3,"set":"ER"},{"x":-0.24,"y":-0.29,"reads":3,"set":"ER"},{"x":-0.17,"y":-0.30,"reads":2,"set":"ER"},{"x":-0.10,"y":-0.29,"reads":3,"set":"ER"},{"x":-0.03,"y":-0.30,"reads":3,"set":"ER"},{"x":0.04,"y":-0.29,"reads":2,"set":"ER"},{"x":0.11,"y":-0.30,"reads":3,"set":"ER"},{"x":0.18,"y":-0.29,"reads":3,"set":"ER"},{"x":0.25,"y":-0.30,"reads":2,"set":"ER"},
{"x":-0.60,"y":-0.38,"reads":3,"set":"ER"},{"x":-0.53,"y":-0.39,"reads":2,"set":"ER"},{"x":-0.46,"y":-0.38,"reads":3,"set":"ER"},{"x":-0.39,"y":-0.39,"reads":3,"set":"ER"},{"x":-0.32,"y":-0.38,"reads":2,"set":"ER"},{"x":-0.25,"y":-0.39,"reads":3,"set":"ER"},{"x":-0.18,"y":-0.38,"reads":3,"set":"ER"},{"x":-0.11,"y":-0.39,"reads":2,"set":"ER"},{"x":-0.04,"y":-0.38,"reads":3,"set":"ER"},{"x":0.03,"y":-0.39,"reads":3,"set":"ER"},{"x":0.10,"y":-0.38,"reads":2,"set":"ER"},{"x":0.17,"y":-0.39,"reads":3,"set":"ER"},
{"x":-0.60,"y":-0.47,"reads":3,"set":"ER"},{"x":-0.53,"y":-0.48,"reads":2,"set":"ER"},{"x":-0.46,"y":-0.47,"reads":3,"set":"ER"},{"x":-0.39,"y":-0.48,"reads":3,"set":"ER"},{"x":-0.32,"y":-0.47,"reads":2,"set":"ER"},{"x":-0.25,"y":-0.48,"reads":3,"set":"ER"},{"x":-0.18,"y":-0.47,"reads":3,"set":"ER"},{"x":-0.11,"y":-0.48,"reads":2,"set":"ER"},{"x":-0.04,"y":-0.47,"reads":3,"set":"ER"},{"x":0.04,"y":-0.48,"reads":3,"set":"ER"},
{"x":-0.57,"y":-0.56,"reads":3,"set":"ER"},{"x":-0.50,"y":-0.57,"reads":2,"set":"ER"},{"x":-0.43,"y":-0.56,"reads":3,"set":"ER"},{"x":-0.36,"y":-0.57,"reads":3,"set":"ER"},{"x":-0.29,"y":-0.56,"reads":2,"set":"ER"},{"x":-0.22,"y":-0.57,"reads":3,"set":"ER"},{"x":-0.15,"y":-0.56,"reads":3,"set":"ER"},{"x":-0.08,"y":-0.57,"reads":2,"set":"ER"},
{"x":-0.50,"y":-0.66,"reads":3,"set":"ER"},{"x":-0.43,"y":-0.67,"reads":3,"set":"ER"},{"x":-0.36,"y":-0.66,"reads":2,"set":"ER"}
 ]},
 "mark": {"type": "point", "shape": "circle", "filled": false, "strokeWidth": 2, "opacity": 1},
 "encoding": {
  "x": {"field": "x", "type": "quantitative", "scale": {"domain": [-4.22, 2.84], "nice": false, "zero": false}},
  "y": {"field": "y", "type": "quantitative", "scale": {"domain": [-4.48, 3.69], "nice": false, "zero": false}},
  "color": {"field": "set", "type": "nominal", "scale": {"domain": ["ER", "other"], "range": ["#ea3326", "#4bb1d2"]},
   "legend": {"orient": "none", "legendX": 39, "legendY": 26, "title": null, "symbolType": "circle", "symbolSize": 144, "symbolStrokeWidth": 2, "labelOffset": 18, "rowPadding": 13, "labelExpr": "datum.label == 'ER' ? 'ER-targeted mRNA' : 'all other mRNA'"}},
  "size": {"field": "reads", "type": "quantitative", "scale": {"type": "pow", "exponent": 2, "domain": [1, 5], "range": [30, 400], "zero": false, "nice": false},
   "legend": {"orient": "none", "legendX": 668, "legendY": 410, "title": "reads", "titleAnchor": "middle", "titleAlign": "right", "values": [1, 2, 3, 4, 5], "symbolType": "circle", "symbolStrokeColor": "#1a1a1a", "symbolFillColor": "transparent", "symbolStrokeWidth": 2, "rowPadding": 26, "titlePadding": 16, "labelOffset": 8, "labelExpr": "['<100/kb','100-500/kb','500-1000/kb','1000-5000/kb','>5000/kb'][datum.value - 1]"}}
 }
}
]
}
